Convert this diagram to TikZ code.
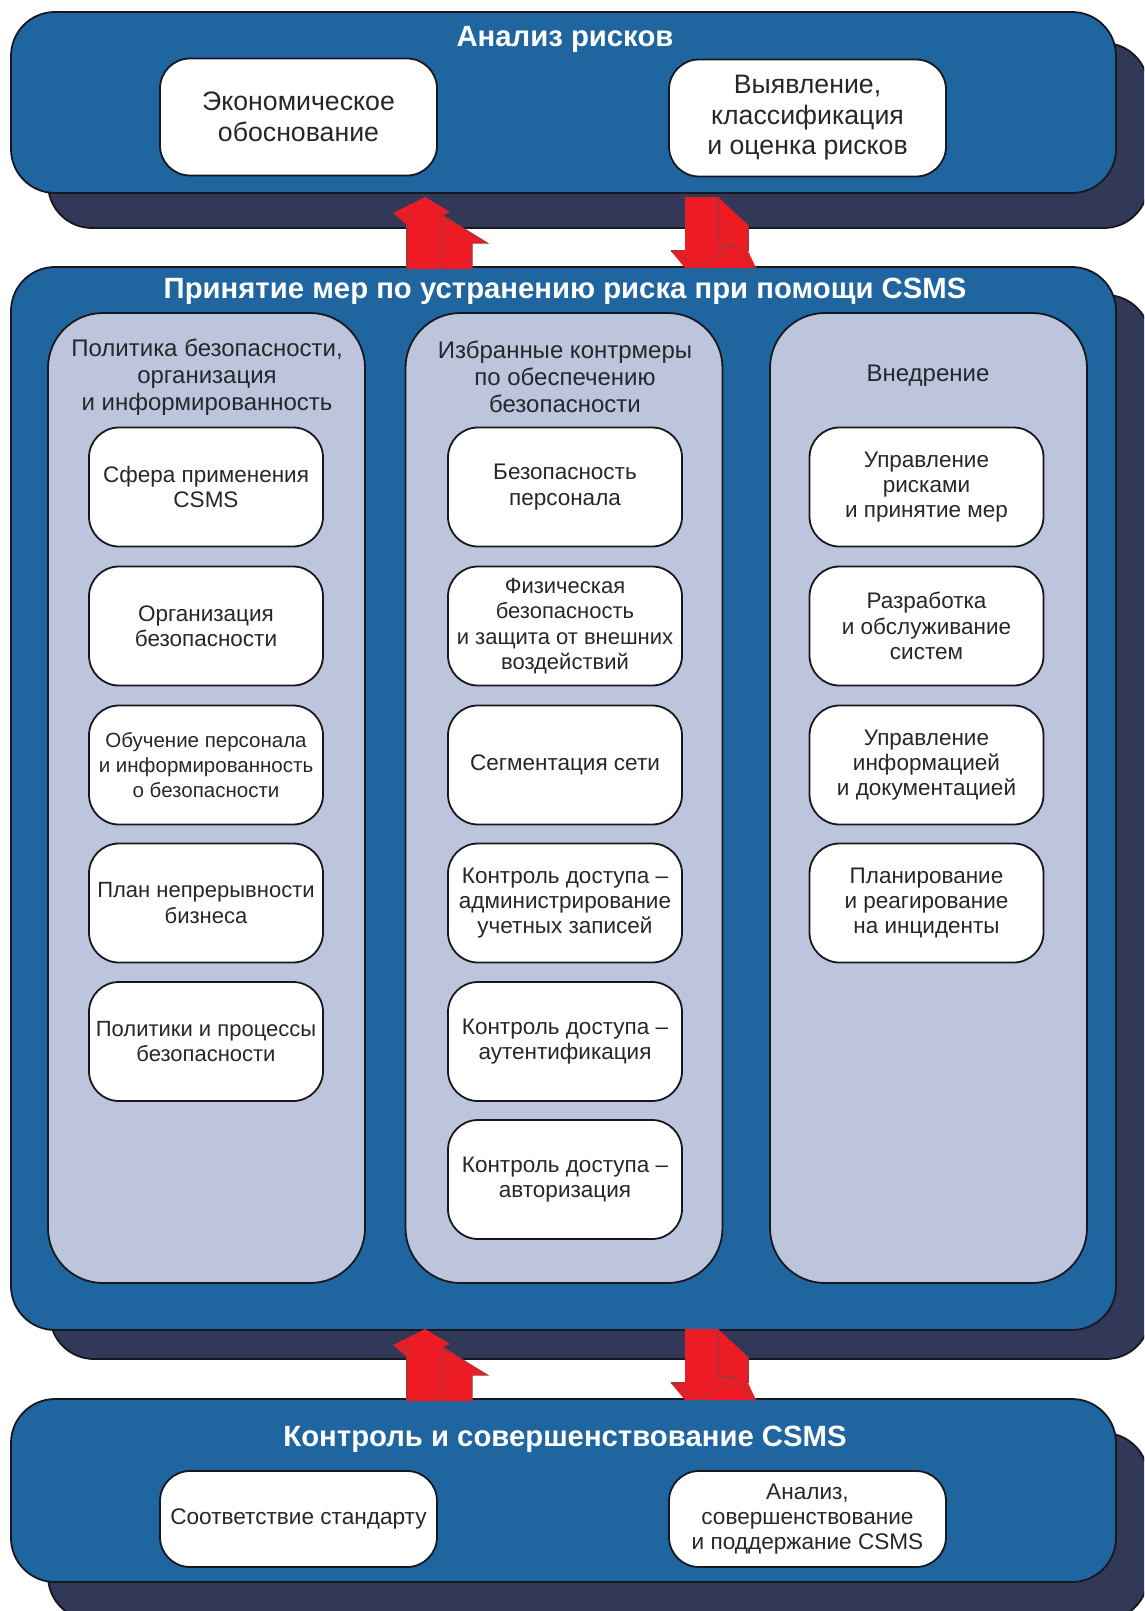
\documentclass[tikz,border=0pt]{standalone}
\usepackage{fontspec}
\setmainfont{Liberation Sans}
\definecolor{bandblue}{HTML}{1F659F}
\definecolor{banddark}{HTML}{323858}
\definecolor{panelgrey}{HTML}{BCC5DC}
\definecolor{inkline}{HTML}{17181F}
\definecolor{inktext}{HTML}{26272C}
\definecolor{arrowred}{HTML}{ED1C24}
\definecolor{arrowedge}{HTML}{B0303A}
\begin{document}
\begin{tikzpicture}[x=1pt, y=-1pt,
  plate/.style={draw=inkline, line width=1.8pt, rectangle, rounded corners=44pt, inner sep=0pt},
  band/.style={plate, fill=bandblue, minimum width=1105pt},
  backing/.style={plate, fill=banddark, minimum width=1100pt},
  panel/.style={plate, fill=panelgrey, rounded corners=55pt, minimum width=317pt, minimum height=970pt},
  card/.style={plate, fill=white, rounded corners=30pt, minimum width=234pt, minimum height=119pt, align=center, text=inktext, font=\fontsize{22.5}{25.4}\selectfont},
  tightcard/.style={card, font=\fontsize{22}{25.4}\selectfont},
  smallcard/.style={card, font=\fontsize{20.5}{25.4}\selectfont},
  widecard/.style={card, minimum width=277pt, minimum height=117pt, font=\fontsize{26.7}{30.5}\selectfont},
  lowcard/.style={widecard, minimum height=96pt, font=\fontsize{22.6}{25.4}\selectfont},
  headline/.style={text=white, font=\fontsize{29.3}{34}\selectfont\bfseries},
  paneltitle/.style={align=center, text=inktext, font=\fontsize{24}{26.9}\selectfont},
  blockfold/.style={draw=arrowedge, line width=1.2pt},
  uparrow/.pic={
    \fill[arrowred] (0,0) -- (25,15) -- (18,18) -- (63,46) -- (47,46) -- (47,72) -- (-18,72) -- (-18,28) -- (-32,16) -- cycle;
    \draw[blockfold] (-31,17) -- (-15,18) -- (-15,28);
    \draw[blockfold] (17,72) -- (17,19) -- (62,46) -- (47,46) -- (47,72);
    \draw[blockfold] (-18,28) -- (-18,72);
  },
  downarrow/.pic={
    \fill[arrowred] (0,0) -- (33,0) -- (63,28) -- (63,54) -- (71,71) -- (0,71) -- (-14,54) -- (0,54) -- cycle;
    \draw[blockfold] (33,0) -- (33,48) -- (48,48);
    \draw[blockfold] (-14,54) -- (15,71) -- (49,48) -- (71,71);
    \draw[blockfold] (-14,54) -- (0,54);
    \draw[blockfold] (63,28) -- (63,54);
  },
]
\clip (0,0) rectangle (1144,1611);
\fill[white] (0,0) rectangle (1144,1611);

\node[backing, minimum height=185pt] (riskback) at (598,135.5){};
\node[backing, minimum height=1064pt] (treatback) at (600,827){};
\node[backing, minimum height=187pt] (checkback) at (598,1526.5){};

\node[band, minimum height=181pt] (risk) at (563.5,102.5){};
\node[band, minimum height=1063pt] (treat) at (563.5,798.5){};
\node[band, minimum height=183pt] (check) at (563.5,1490.5){};

\pic at (425,197) {uparrow};
\pic at (685,197) {downarrow};
\pic at (425,1329) {uparrow};
\pic at (685,1329) {downarrow};

\node[headline] (risktitle) at (565,39) {Анализ рисков};
\node[headline] (treattitle) at (565,291) {Принятие мер по устранению риска при помощи CSMS};
\node[headline] (checktitle) at (565,1439) {Контроль и совершенствование CSMS};

\node[widecard] (rid0) at (298.5,117){Экономическое\\обоснование};
\node[widecard] (rid1) at (807.5,118){Выявление,\\классификация\\и оценка рисков};

\node[panel] (pan0) at (206.5,798){};
\node[panel] (pan1) at (564,798){};
\node[panel] (pan2) at (928.5,798){};

\node[paneltitle] (pant0) at (207,377){Политика безопасности,\\организация\\и информированность};
\node[paneltitle] (pant1) at (565,377){Избранные контрмеры\\по обеспечению\\безопасности};
\node[paneltitle] (pant2) at (928,376){Внедрение};

\node[card] (lid0) at (206,487){Сфера применения\\CSMS};
\node[card] (lid1) at (206,626){Организация\\безопасности};
\node[smallcard] (lid2) at (206,765){Обучение персонала\\и информированность\\о безопасности};
\node[tightcard] (lid3) at (206,903){План непрерывности\\бизнеса};
\node[tightcard] (lid4) at (206,1041.5){Политики и процессы\\безопасности};

\node[card] (mid0) at (565,487){Безопасность\\персонала};
\node[tightcard] (mid1) at (565,626){Физическая\\безопасность\\и защита от внешних\\воздействий};
\node[card] (mid2) at (565,765){Сегментация сети};
\node[card] (mid3) at (565,903){Контроль доступа –\\администрирование\\учетных записей};
\node[card] (mid4) at (565,1041.5){Контроль доступа –\\аутентификация};
\node[card] (mid5) at (565,1179.5){Контроль доступа –\\авторизация};

\node[card] (nid0) at (926.5,487){Управление\\рисками\\и принятие мер};
\node[card] (nid1) at (926.5,626){Разработка\\и обслуживание\\систем};
\node[card] (nid2) at (926.5,765){Управление\\информацией\\и документацией};
\node[card] (nid3) at (926.5,903){Планирование\\и реагирование\\на инциденты};

\node[lowcard] (cid0) at (298.5,1519){Соответствие стандарту};
\node[lowcard] (cid1) at (807.5,1519){Анализ,\\совершенствование\\и поддержание CSMS};

\end{tikzpicture}
\end{document}
